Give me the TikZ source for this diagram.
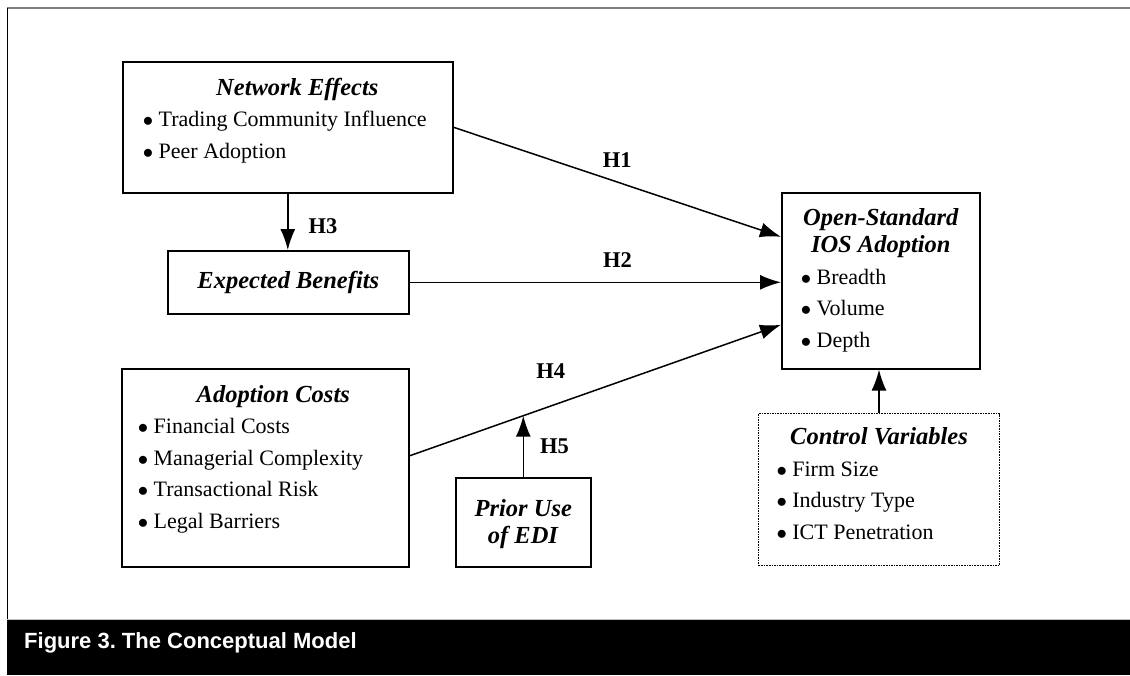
\documentclass[tikz,border=0pt]{standalone}
\usepackage{fontspec}
\setmainfont{Liberation Serif}
\newfontfamily\capfont{Liberation Sans}
\usepackage{tikz}
\usetikzlibrary{arrows.meta}
\tikzset{>={Latex[length=21pt, width=15pt]}}
\tikzset{
	box/.style={draw, line width=1.6pt, inner sep=0pt, anchor=north west},
	hyp/.style={font=\fontsize{22.5}{26}\selectfont\bfseries, inner sep=2pt},
	link/.style={->, line width=1.5pt},
}
\newcommand{\hd}[1]{{\fontsize{24.5}{28}\selectfont\textbf{\textit{#1}}}}
\newcommand{\bx}[3]{\begin{minipage}[t][#2][t]{#1}#3\end{minipage}}
\newcommand{\itm}[2]{\hspace*{#1}$\bullet$\ #2\par}

\begin{document}
\begin{tikzpicture}[x=1pt, y=-1pt, font=\fontsize{22}{31.5}\selectfont]
	\useasboundingbox (0,0) rectangle (1130,675);
	% frame and caption
	\fill (7,619) rectangle (1130,675);
	\draw[gray!50, line width=1pt] (7,619)--(1130,619);
	\draw[gray, line width=2pt] (7,8)--(1130,8);
	\draw[line width=1pt] (7,8)--(7,619);
	\node[anchor=base west, inner sep=0pt, text=white, font=\capfont\bfseries\frenchspacing\fontsize{22}{26}\selectfont] (cap) at (24,648) {Figure 3. The Conceptual Model};
	% boxes
	\node[box] (net) at (122,61) {\bx{330pt}{131pt}{\vspace*{16pt}\centering\hspace*{19pt}\hd{Network Effects}\par\raggedright
		\itm{20pt}{Trading Community Influence}\itm{20pt}{Peer Adoption}}};
	\node[box, minimum width=241pt, minimum height=63pt] (exp) at (167,250) {\hd{Expected Benefits}};
	\node[box] (ios) at (781,192) {\bx{198pt}{176pt}{\vspace*{15.5pt}\centering\hd{Open-Standard\\[-4pt]IOS Adoption}\par\raggedright
		\itm{19pt}{Breadth}\itm{19pt}{Volume}\itm{19pt}{Depth}}};
	\node[box] (cost) at (121,368) {\bx{287pt}{198pt}{\vspace*{16.5pt}\centering\hspace*{16pt}\hd{Adoption Costs}\par\raggedright
		\itm{16pt}{Financial Costs}\itm{16pt}{Managerial Complexity}\itm{16pt}{Transactional Risk}\itm{16pt}{Legal Barriers}}};
	\node[box] (prior) at (455,477) {\bx{135pt}{89pt}{\vspace*{22pt}\centering\hd{Prior Use\\[-4.5pt]of EDI}}};
	\node[box, densely dotted, line width=1pt] (ctrl) at (758,413) {\bx{241pt}{152pt}{\vspace*{14pt}\centering\hd{Control Variables}\par\raggedright
		\itm{18pt}{Firm Size}\itm{18pt}{Industry Type}\itm{18pt}{ICT Penetration}}};
	% hypotheses
	\draw[link] (net.east)--([yshift=44pt]ios.west) node[hyp, midway, above=12pt] (h1) {H1};
	\draw[link] (exp.east)--(exp.east -| ios.west) node[hyp, pos=0.56, above=12pt] (h2) {H2};
	\draw[link] (net.south)--(net.south |- exp.north) node[hyp, midway, right=18pt, yshift=-4pt] (h3) {H3};
	\draw[link] ([yshift=12pt]cost.east)--([yshift=-44pt]ios.west) coordinate[pos=0.306] (mod) node[hyp, pos=0.38, above=25pt] (h4) {H4};
	\draw[link] (prior.north)--(prior.north |- mod) node[hyp, midway, right=14pt] (h5) {H5};
	% controls
	\draw[link] (ctrl.north)--(ctrl.north |- ios.south);
\end{tikzpicture}
\end{document}
